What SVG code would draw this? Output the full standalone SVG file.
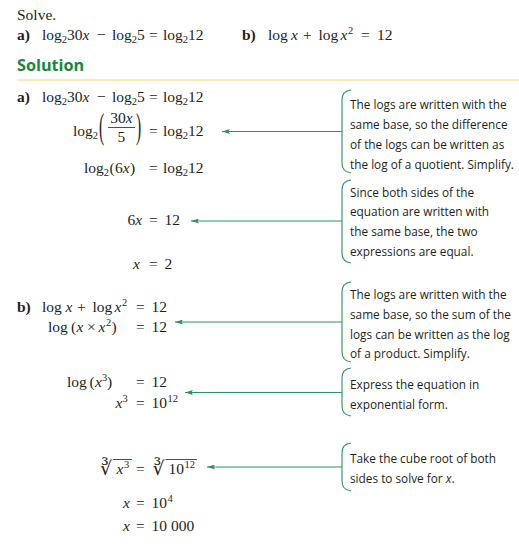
<svg xmlns="http://www.w3.org/2000/svg" width="519" height="547" viewBox="0 0 519 547">
<defs>
<style>
.m{font-family:"Liberation Serif","Times New Roman",serif;font-size:15.5px;fill:#231f20}
.i{font-style:italic}
.s{font-size:10.5px}
.b{font-weight:bold}
.r{font-family:"DejaVu Serif","DejaVu Sans",serif;font-size:19px;fill:#231f20}
.n{font-family:"Open Sans","Noto Sans",sans-serif;font-size:11.8px;fill:#231f20}
.h{font-family:"Open Sans","Noto Sans",sans-serif;font-size:16.2px;font-weight:bold;fill:#14883c}
.br{fill:none;stroke:#2f9160;stroke-width:1.1}
.ar{fill:none;stroke:#2f9160;stroke-width:1}
.ln{stroke:#231f20;stroke-width:0.8}
</style>
<marker id="ah" viewBox="0 0 8 5" refX="8" refY="2.5" markerWidth="8" markerHeight="5" orient="auto" markerUnits="userSpaceOnUse">
<path d="M0,0 L8,2.5 L0,5 L1.5,2.5 z" fill="#2f9160"/>
</marker>
</defs>
<rect width="519" height="547" fill="#ffffff"/>

<g id="problem">
<text class="m" x="17" y="20">Solve.</text>
<text class="m b" x="17" y="40">a)</text>
<text class="m" x="42" y="40">log<tspan class="s" dy="3">2</tspan><tspan dy="-3">30</tspan><tspan class="i">x</tspan></text>
<text class="m" x="97" y="40">−</text>
<text class="m" x="112" y="40">log<tspan class="s" dy="3">2</tspan><tspan dy="-3">5</tspan></text>
<text class="m" x="149" y="40">=</text>
<text class="m" x="163" y="40">log<tspan class="s" dy="3">2</tspan><tspan dy="-3">12</tspan></text>
<text class="m b" x="242" y="40">b)</text>
<text class="m" x="268" y="40">log</text>
<text class="m i" x="291" y="40">x</text>
<text class="m" x="303" y="40">+</text>
<text class="m" x="318.5" y="40">log</text>
<text class="m i" x="340.5" y="40">x</text>
<text class="m s" x="348" y="34">2</text>
<text class="m" x="361" y="40">=</text>
<text class="m" x="377" y="40">12</text>
</g>

<g id="heading">
<text class="h" x="17" y="71">Solution</text>
<line x1="17" y1="80" x2="519" y2="80" stroke="#fde2a2" stroke-width="1.5"/>
</g>

<g id="part-a">
<text class="m b" x="17" y="102">a)</text>
<text class="m" x="42" y="102">log<tspan class="s" dy="3">2</tspan><tspan dy="-3">30</tspan><tspan class="i">x</tspan></text>
<text class="m" x="97" y="102">−</text>
<text class="m" x="112" y="102">log<tspan class="s" dy="3">2</tspan><tspan dy="-3">5</tspan></text>
<text class="m" x="149" y="102">=</text>
<text class="m" x="163" y="102">log<tspan class="s" dy="3">2</tspan><tspan dy="-3">12</tspan></text>

<text class="m" x="73" y="136">log<tspan class="s" dy="3">2</tspan></text>
<text class="m" transform="translate(99,138) scale(1,2.3)">(</text>
<text class="m" x="110.3" y="123">30<tspan class="i">x</tspan></text>
<line class="ln" x1="108" y1="127.5" x2="135" y2="127.5"/>
<text class="m" x="117.6" y="142">5</text>
<text class="m" transform="translate(136,138) scale(1,2.3)">)</text>
<text class="m" x="149" y="136">=</text>
<text class="m" x="163" y="136">log<tspan class="s" dy="3">2</tspan><tspan dy="-3">12</tspan></text>

<text class="m" x="84" y="173">log<tspan class="s" dy="3">2</tspan></text>
<text class="m" x="109.5" y="173">(</text>
<text class="m" x="115" y="173">6<tspan class="i">x</tspan></text>
<text class="m" x="130" y="173">)</text>
<text class="m" x="149" y="173">=</text>
<text class="m" x="163" y="173">log<tspan class="s" dy="3">2</tspan><tspan dy="-3">12</tspan></text>

<text class="m" x="127.5" y="225">6<tspan class="i">x</tspan></text>
<text class="m" x="149" y="225">=</text>
<text class="m" x="164.5" y="225">12</text>

<text class="m i" x="133" y="269">x</text>
<text class="m" x="149" y="269">=</text>
<text class="m" x="164.5" y="269">2</text>
</g>

<g id="part-b">
<text class="m b" x="17" y="312">b)</text>
<text class="m" x="42" y="312">log</text>
<text class="m i" x="65.5" y="312">x</text>
<text class="m" x="77" y="312">+</text>
<text class="m" x="92.5" y="312">log</text>
<text class="m i" x="114.5" y="312">x</text>
<text class="m s" x="122" y="306">2</text>
<text class="m" x="136" y="312">=</text>
<text class="m" x="151.5" y="312">12</text>

<text class="m" x="48" y="332">log</text>
<text class="m" x="71" y="332">(</text>
<text class="m i" x="76.5" y="332">x</text>
<text class="m" x="87" y="332">×</text>
<text class="m i" x="98.5" y="332">x</text>
<text class="m s" x="106" y="326">2</text>
<text class="m" x="111.5" y="332">)</text>
<text class="m" x="136" y="332">=</text>
<text class="m" x="151.5" y="332">12</text>

<text class="m" x="67" y="387">log</text>
<text class="m" x="89.5" y="387">(</text>
<text class="m i" x="95" y="387">x</text>
<text class="m s" x="102" y="381">3</text>
<text class="m" x="107" y="387">)</text>
<text class="m" x="136" y="387">=</text>
<text class="m" x="151.5" y="387">12</text>

<text class="m i" x="115.5" y="408">x</text>
<text class="m s" x="122.5" y="402">3</text>
<text class="m" x="136" y="408">=</text>
<text class="m" x="151.5" y="408">10</text>
<text class="m s" x="167.5" y="402">12</text>

<text class="r" x="100" y="475">∛</text>
<line class="ln" x1="113" y1="459.5" x2="132" y2="459.5"/>
<text class="m i" x="116.5" y="474">x</text>
<text class="m s" x="124" y="468">3</text>
<text class="m" x="136" y="474">=</text>
<text class="r" x="152.5" y="475">∛</text>
<line class="ln" x1="165.5" y1="459.5" x2="197" y2="459.5"/>
<text class="m" x="168.5" y="474">10</text>
<text class="m s" x="184.5" y="468">12</text>

<text class="m i" x="123" y="508">x</text>
<text class="m" x="136" y="508">=</text>
<text class="m" x="151.5" y="508">10</text>
<text class="m s" x="167.5" y="502">4</text>

<text class="m i" x="123" y="531">x</text>
<text class="m" x="136" y="531">=</text>
<text class="m" x="151.5" y="531">10 000</text>
</g>

<g id="note1">
<path class="br" d="M351,90 Q342,91 342,100 V163 Q342,172 351,173"/>
<text class="n" x="350" y="108.5">The logs are written with the</text>
<text class="n" x="350" y="128.5">same base, so the difference</text>
<text class="n" x="350" y="148.5">of the logs can be written as</text>
<text class="n" x="350" y="168.5">the log of a quotient. Simplify.</text>
</g>
<g id="note2">
<path class="br" d="M351,180 Q342,181 342,190 V253 Q342,262 351,263"/>
<text class="n" x="350" y="196.5">Since both sides of the</text>
<text class="n" x="350" y="216.3">equation are written with</text>
<text class="n" x="350" y="236.1">the same base, the two</text>
<text class="n" x="350" y="255.9">expressions are equal.</text>
</g>
<g id="note3">
<path class="br" d="M351,282 Q342,283 342,292 V352 Q342,361 351,362"/>
<text class="n" x="350" y="299">The logs are written with the</text>
<text class="n" x="350" y="318.8">same base, so the sum of the</text>
<text class="n" x="350" y="338.6">logs can be written as the log</text>
<text class="n" x="350" y="358.4">of a product. Simplify.</text>
</g>
<g id="note4">
<path class="br" d="M351,368 Q342,369 342,378 V406 Q342,415 351,416"/>
<text class="n" x="350" y="389">Express the equation in</text>
<text class="n" x="350" y="409">exponential form.</text>
</g>
<g id="note5">
<path class="br" d="M351,443 Q342,444 342,453 V481 Q342,490 351,491"/>
<text class="n" x="350" y="462.5">Take the cube root of both</text>
<text class="n" x="350" y="482.5">sides to solve for <tspan class="i">x</tspan>.</text>
</g>

<g id="connectors">
<path class="ar" d="M342,131.5 H222" marker-end="url(#ah)"/>
<path class="ar" d="M342,221 H191" marker-end="url(#ah)"/>
<path class="ar" d="M342,322 H175" marker-end="url(#ah)"/>
<path class="ar" d="M342,392.5 H185" marker-end="url(#ah)"/>
<path class="ar" d="M342,467 H207" marker-end="url(#ah)"/>
</g>
</svg>
